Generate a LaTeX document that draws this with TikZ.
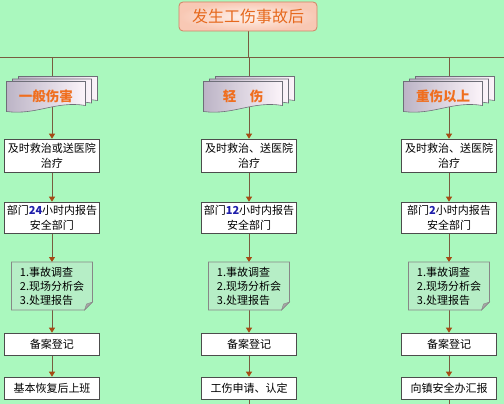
\documentclass[tikz,border=0pt]{standalone}
\usepackage{fontspec}
\setmainfont{Noto Sans CJK SC}
\usetikzlibrary{arrows.meta}

\definecolor{bggreen}{RGB}{170,248,190}
\definecolor{wirebrown}{RGB}{120,92,64}
\definecolor{tipbrown}{RGB}{165,75,20}
\definecolor{titleedge}{RGB}{210,130,100}
\definecolor{titlein}{RGB}{255,242,235}
\definecolor{titleout}{RGB}{248,200,180}
\definecolor{titletext}{RGB}{230,105,30}
\definecolor{kindorange}{RGB}{240,110,30}
\definecolor{pagegray}{RGB}{188,180,198}
\definecolor{pagewhite}{RGB}{252,244,250}
\definecolor{pageedge}{RGB}{110,110,120}
\definecolor{notegreen}{RGB}{182,238,198}
\definecolor{noteedge}{RGB}{135,135,135}
\definecolor{hourblue}{RGB}{30,30,170}

\pgfdeclarelayer{bg}
\pgfdeclarelayer{wires}
\pgfdeclarelayer{shapes}
\pgfsetlayers{bg,wires,shapes,main}

\tikzset{
  wire/.style={draw=wirebrown, line width=0.8pt},
  flow/.style={wire, -{Triangle[width=6pt, length=5pt, color=tipbrown]}},
  titlebox/.style={rounded corners=4pt, draw=titleedge, line width=0.8pt,
    inner color=titlein, outer color=titleout, text=titletext,
    minimum width=138pt, minimum height=29pt, font=\fontsize{16}{18}\selectfont},
  kindtext/.style={minimum width=79pt, minimum height=30pt, inner sep=0pt,
    text=kindorange, font=\fontsize{13.5}{15}\selectfont\bfseries},
  docpage/.style={draw=pageedge, line width=0.6pt, left color=pagegray, right color=pagewhite},
  box/.style={draw=black!70, fill=white, line width=0.6pt, minimum width=95pt,
    align=center, inner sep=1pt},
  notetext/.style={minimum width=81pt, minimum height=48pt, align=left,
    inner sep=0pt, outer sep=0pt, font=\fontsize{11}{14}\selectfont},
  notebox/.style={draw=noteedge, fill=notegreen, line width=0.6pt},
}

\begin{document}
\begin{tikzpicture}[x=1pt, y=-1pt, font=\fontsize{11}{15}\selectfont]
\begin{pgfonlayer}{bg}
\fill[bggreen] (0,0) rectangle (504,404);
\end{pgfonlayer}
\useasboundingbox (0,0) rectangle (504,404);

\node[titlebox] (title) at (248,16.5) {发生工伤事故后};
\coordinate (busL) at (0,57);
\coordinate (busR) at (504,57);
\begin{pgfonlayer}{wires}
\draw[wire] (busL) -- (busR);
\draw[wire] (title) -- (title |- busL);
\end{pgfonlayer}

% one column per kind of injury
\foreach \i/\x/\kind/\first/\hrs/\last in {%
    1/52/一般伤害/及时救治或送医院/24/基本恢复后上班,
    2/249/轻\hspace{1em}伤/及时救治、送医院/12/工伤申请、认定,
    3/449/重伤以上/及时救治、送医院/2/向镇安全办汇报}{
  \node[kindtext] (g\i) at (\x-6,96.5) {\kind};
  \node[box, minimum height=33pt] (b\i1) at (\x,155.5) {\first\\治疗};
  \node[box, minimum height=31pt] (b\i2) at (\x,217.5)
    {部门\textcolor{hourblue}{\textbf{\hrs}}小时内报告\\安全部门};
  \node[notetext] (b\i3) at (\x,286) {1.事故调查\\2.现场分析会\\3.处理报告};
  \node[box, minimum height=22pt] (b\i4) at (\x,344) {备案登记};
  \node[box, minimum height=22pt] (b\i5) at (\x,388) {\last};
  \begin{pgfonlayer}{shapes}
    \foreach \d in {2,1,0}
      \draw[docpage, shift={(g\i.center)}, xshift=6*\d, yshift=2.5*\d]
        (-39.5,-15) -- (39.5,-15) -- (39.5,9)
        .. controls (10,4) and (-10,19) .. (-39.5,15) -- cycle;
    \draw[notebox] (b\i3.north west) -- (b\i3.north east)
      -- ([yshift=8pt]b\i3.south east) -- ([xshift=-8pt]b\i3.south east)
      -- (b\i3.south west) -- cycle;
    \filldraw[draw=noteedge, fill=black!35, line width=0.4pt]
      ([yshift=8pt]b\i3.south east) -- ([xshift=-8pt]b\i3.south east)
      -- ([xshift=-6pt, yshift=6pt]b\i3.south east) -- cycle;
  \end{pgfonlayer}
  \begin{pgfonlayer}{wires}
    \draw[wire] (b\i1 |- busL) -- (b\i1 |- g\i.center);
    \draw[flow] (b\i1 |- g\i.center) -- (b\i1);
    \foreach \a/\b in {1/2, 2/3, 3/4, 4/5}
      \draw[flow] (b\i\a) -- (b\i\b);
  \end{pgfonlayer}
}

% lines running on below the page
\coordinate (tail2) at (249,404);
\coordinate (tail3) at (449,404);
\begin{pgfonlayer}{wires}
\draw[wire] (b25) -- (tail2);
\draw[wire] (b35) -- (tail3);
\end{pgfonlayer}
\end{tikzpicture}
\end{document}
